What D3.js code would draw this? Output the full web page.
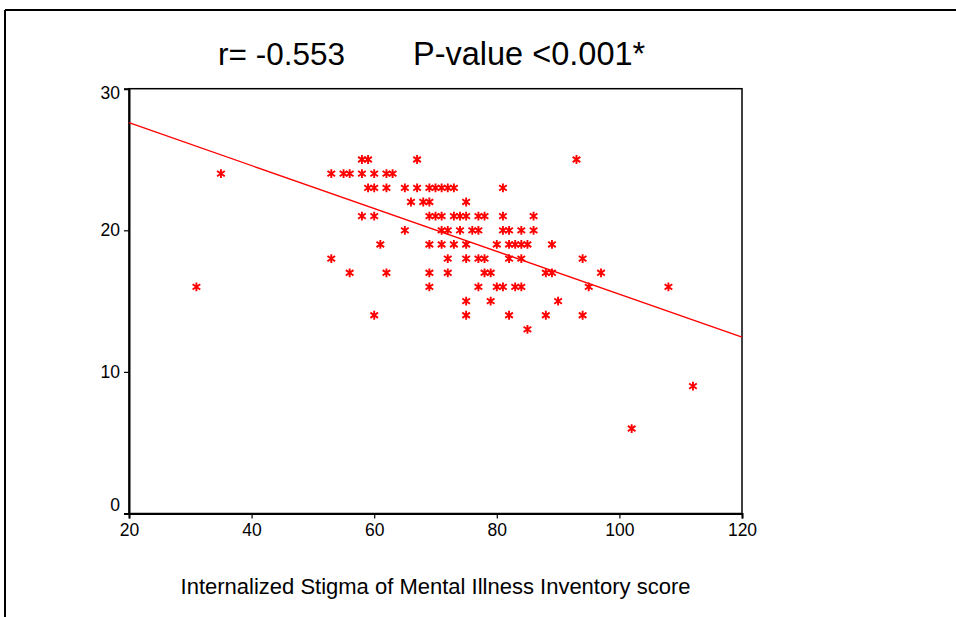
<!DOCTYPE html>
<html>
<head>
<meta charset="utf-8">
<script src="https://cdn.jsdelivr.net/npm/d3@7"></script>
<style>
  html, body { margin: 0; padding: 0; background: #fff; }
  svg { display: block; font-family: Arial, "Liberation Sans", sans-serif; }
</style>
</head>
<body>
<svg id="chart" width="956" height="617"></svg>
<script>
// ---- data ----
const titleLeft = "r= -0.553";
const titleRight = "P-value <0.001*";
const xLabel = "Internalized Stigma of Mental Illness Inventory score";
const xTicks = [20, 40, 60, 80, 100, 120];
const yTicks = [0, 10, 20, 30];
// ISMI score (x) and outcome score (y) for each respondent
const ismiScore = [
  58, 59, 67, 93,
  35, 53, 55, 56, 58, 60, 62, 63,
  59, 60, 62, 65, 67, 69, 70, 71, 72, 73, 81,
  66, 68, 69, 75,
  58, 60, 69, 70, 71, 73, 74, 75, 77, 78, 81, 86,
  65, 71, 72, 74, 76, 77, 81, 82, 84, 86,
  61, 69, 71, 73, 75, 80, 82, 83, 84, 85, 89,
  53, 72, 75, 77, 78, 82, 84, 94,
  56, 62, 69, 72, 78, 79, 88, 89, 97,
  31, 69, 77, 80, 81, 83, 84, 95, 108,
  75, 79, 90,
  60, 75, 82, 88, 94,
  85,
  112,
  102
];
const outcomeScore = [
  25, 25, 25, 25,
  24, 24, 24, 24, 24, 24, 24, 24,
  23, 23, 23, 23, 23, 23, 23, 23, 23, 23, 23,
  22, 22, 22, 22,
  21, 21, 21, 21, 21, 21, 21, 21, 21, 21, 21, 21,
  20, 20, 20, 20, 20, 20, 20, 20, 20, 20,
  19, 19, 19, 19, 19, 19, 19, 19, 19, 19, 19,
  18, 18, 18, 18, 18, 18, 18, 18,
  17, 17, 17, 17, 17, 17, 17, 17, 17,
  16, 16, 16, 16, 16, 16, 16, 16, 16,
  15, 15, 15,
  14, 14, 14, 14, 14,
  13,
  9,
  6
];
// fitted regression line end points
const fitX = [20, 120];
const fitY = [27.6, 12.45];

// ---- drawing ----
const svg = d3.select("#chart");
const W = 956, H = 617;
const plot = { left: 129, right: 742, top: 88.7, bottom: 513.5 };

const x = d3.scaleLinear().domain([20, 120]).range([plot.left, plot.right]);
const y = d3.scaleLinear().domain([0, 30]).range([plot.bottom, plot.top]);

// outer frame lines
svg.append("line").attr("x1", 5).attr("x2", W).attr("y1", 10).attr("y2", 10)
  .attr("stroke", "#000").attr("stroke-width", 2);
svg.append("line").attr("x1", 5).attr("x2", 5).attr("y1", 10).attr("y2", H)
  .attr("stroke", "#000").attr("stroke-width", 2);

// title
svg.append("text").attr("x", 218).attr("y", 65)
  .attr("font-size", 31.5).attr("fill", "#000").text(titleLeft);
svg.append("text").attr("x", 413).attr("y", 65)
  .attr("font-size", 32.5).attr("fill", "#000").text(titleRight);

// plot frame
svg.append("rect")
  .attr("x", plot.left).attr("y", plot.top)
  .attr("width", plot.right - plot.left).attr("height", plot.bottom - plot.top)
  .attr("fill", "none").attr("stroke", "#000").attr("stroke-width", 1.5);

// axes
const xAxis = d3.axisBottom(x).tickValues(xTicks).tickSize(5).tickPadding(5).tickFormat(d3.format("d"));
const yAxis = d3.axisLeft(y).tickValues(yTicks).tickSize(5).tickPadding(4).tickFormat(d3.format("d"));

const gx = svg.append("g").attr("transform", `translate(0,${plot.bottom})`).call(xAxis);
const gy = svg.append("g").attr("transform", `translate(${plot.left},0)`).call(yAxis);
[gx, gy].forEach(g => {
  g.select(".domain").attr("stroke", "#000").attr("stroke-width", 2);
  g.selectAll(".tick line").attr("stroke", "#000").attr("stroke-width", 1.2);
  g.selectAll(".tick text").attr("font-size", 17.5).attr("fill", "#000")
    .attr("font-family", "Arial, 'Liberation Sans', sans-serif");
});
gy.selectAll(".tick text").filter(d => d === 0).attr("dy", "-0.2em");
gy.selectAll(".tick text").filter(d => d === 30).attr("dy", "0.55em");

// x axis title
svg.append("text").attr("x", (181 + 690) / 2).attr("y", 594)
  .attr("text-anchor", "middle").attr("font-size", 22).attr("fill", "#000")
  .text(xLabel);

// regression line
svg.append("line")
  .attr("x1", x(fitX[0])).attr("y1", y(fitY[0]))
  .attr("x2", x(fitX[1])).attr("y2", y(fitY[1]))
  .attr("stroke", "#ff0000").attr("stroke-width", 1.4);

// asterisk markers
const r = 4.4;
const starPath = `M0,${-r}L0,${r}M${-r * 0.87},${-r * 0.6}L${r * 0.87},${r * 0.6}M${-r * 0.87},${r * 0.6}L${r * 0.87},${-r * 0.6}`;
const pts = ismiScore.map((v, i) => ({ x: v, y: outcomeScore[i] }));
svg.append("g").selectAll("path").data(pts).join("path")
  .attr("transform", d => `translate(${x(d.x)},${y(d.y)})`)
  .attr("d", starPath)
  .attr("fill", "none").attr("stroke", "#ff0000").attr("stroke-width", 1.9);
</script>
</body>
</html>
